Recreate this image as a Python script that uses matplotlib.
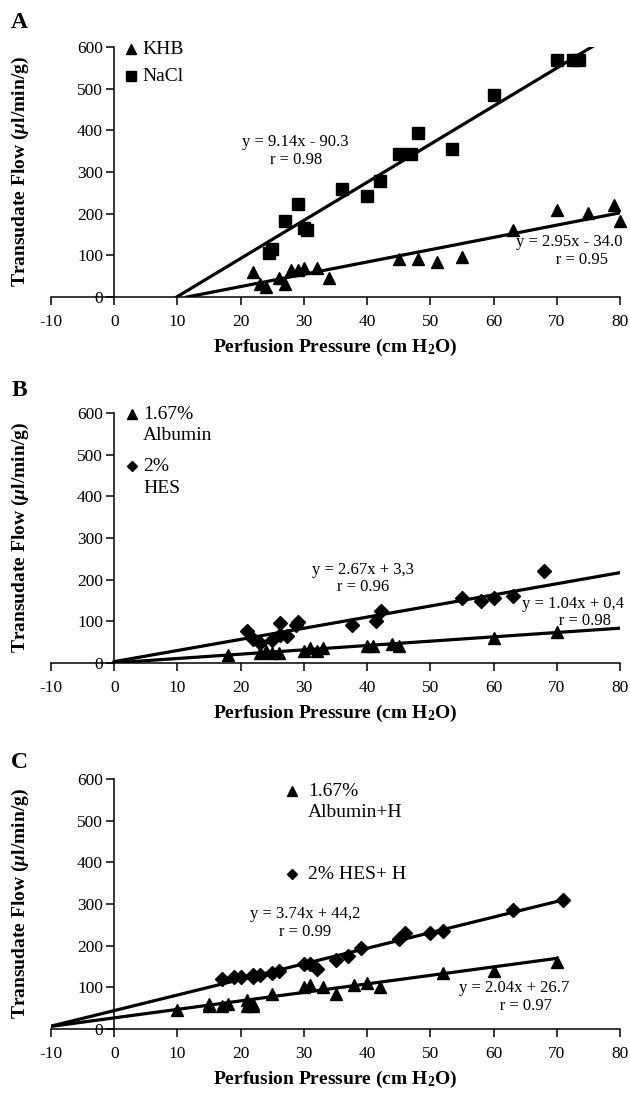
import matplotlib
matplotlib.use("Agg")
import matplotlib.pyplot as plt
from matplotlib.lines import Line2D
import numpy as np

plt.rcParams['font.family'] = ['Liberation Serif', 'DejaVu Serif']
plt.rcParams['axes.unicode_minus'] = False
plt.rcParams['mathtext.fontset'] = 'custom'
plt.rcParams['mathtext.rm'] = 'Liberation Serif'
plt.rcParams['mathtext.it'] = 'Liberation Serif:italic'
plt.rcParams['mathtext.bf'] = 'Liberation Serif:bold'
plt.rcParams['mathtext.bfit'] = 'Liberation Serif:bold:italic'

# ---- Panel A ----
khb_x = [22, 23, 24, 26, 27, 28, 29, 30, 32, 34, 45, 48, 51, 55, 63, 70, 75, 79, 80]
khb_y = [60, 30, 25, 45, 30, 65, 65, 70, 70, 45, 90, 90, 85, 95, 160, 209, 202, 221, 183]
nacl_x = [24.5, 25, 27, 29, 30, 30.5, 36, 40, 42, 45, 47, 48, 53.5, 60, 70, 72.5, 73.5]
nacl_y = [105, 115, 182, 223, 165, 160, 259, 242, 278, 343, 343, 393, 355, 485, 569, 569, 569]
fit_a = [(2.95, -34.0), (9.14, -90.3)]

# ---- Panel B ----
alb_x = [18, 23, 24, 25, 26, 30, 31, 32, 33, 40, 41, 44, 45, 60, 70]
alb_y = [20, 25, 30, 25, 25, 30, 35, 30, 35, 40, 40, 45, 40, 60, 75]
hes_x = [21, 22, 23, 25, 26.3, 26.3, 27.3, 28.8, 29, 37.6, 41.4, 42.2, 55, 58, 60, 63, 68]
hes_y = [77, 58, 48, 55, 96, 67, 65, 92, 98, 91, 101, 125, 155, 150, 155, 160, 220]
fit_b = [(1.04, 0.4), (2.67, 3.3)]

# ---- Panel C ----
albh_x = [10, 15, 15, 17, 18, 21, 21, 22, 22, 25, 30, 31, 33, 35, 38, 40, 42, 52, 60, 70]
albh_y = [45, 55, 60, 55, 60, 70, 55, 60, 55, 85, 100, 105, 100, 85, 105, 110, 100, 135, 140, 160]
hesh_x = [17, 19, 20, 22, 22, 23, 25, 26, 30, 31, 32, 35, 37, 39, 45, 46, 50, 52, 63, 71]
hesh_y = [120, 125, 125, 125, 130, 130, 135, 140, 155, 155, 145, 165, 175, 195, 215, 230, 230, 235, 285, 310]
fit_c = [(2.04, 26.7), (3.74, 44.2)]

xticks = list(range(-10, 81, 10))
yticks = list(range(0, 601, 100))

W, H = 630, 1093
fig = plt.figure(figsize=(W / 100, H / 100), dpi=100)
LEFT, RIGHT = 51, 620


def make_ax(top, bottom, letter, letter_y):
    ax = fig.add_axes([LEFT / W, 1 - bottom / H, (RIGHT - LEFT) / W, (bottom - top) / H])
    ax.set_xlim(-10, 80)
    ax.set_ylim(0, 600)
    ax.spines['top'].set_visible(False)
    ax.spines['right'].set_visible(False)
    ax.spines['left'].set_position(('data', 0))
    for s in ('left', 'bottom'):
        ax.spines[s].set_linewidth(1.1)
    ax.set_xticks(xticks)
    ax.set_yticks(yticks)
    ax.tick_params(direction='out', length=6, width=1.1, labelsize=12.5, pad=2)
    ax.tick_params(axis='x', pad=6)
    ax.set_facecolor('none')
    fig.text(20 / W, 1 - (top + bottom) / 2 / H, r'Transudate Flow ($\mathbfit{\mu}$l/min/g)',
             rotation=90, ha='center', va='center', fontsize=14, fontweight='bold')
    fig.text((LEFT + RIGHT) / 2 / W, 1 - (bottom + 50) / H,
             r'Perfusion Pressure (cm H$_\mathbf{2}$O)',
             ha='center', va='center', fontsize=14, fontweight='bold')
    fig.text(19 / W, 1 - letter_y / H, letter, fontsize=17, fontweight='bold',
             ha='center', va='center')
    return ax


def fit_line(ax, m, b, x0, x1):
    xs = np.array([x0, x1])
    ax.plot(xs, m * xs + b, color='black', lw=2.3, zorder=2)


def legend_mark(px, py, marker, ms):
    fig.add_artist(Line2D([px / W], [1 - py / H], marker=marker, color='black', ms=ms,
                          transform=fig.transFigure))


def legend_text(px, py, text):
    fig.text(px / W, 1 - py / H, text, fontsize=14)


def note(ax, x, y, text):
    ax.text(x, y, text, ha='center', va='center', fontsize=12, linespacing=1.15)


ms = 8
# Panel A
axA = make_ax(47, 297, 'A', 22)
for m, b in fit_a:
    fit_line(axA, m, b, -b / m, 80)
axA.plot(khb_x, khb_y, '^', color='black', ms=ms, zorder=3, clip_on=False)
axA.plot(nacl_x, nacl_y, 's', color='black', ms=ms, zorder=3, clip_on=False)
legend_mark(131, 49, '^', 7)
legend_mark(131, 76, 's', 7)
legend_text(142, 54, 'KHB')
legend_text(142, 81, 'NaCl')
note(axA, 28.7, 350, 'y = 9.14x - 90.3\nr = 0.98')
note(axA, 72, 110, 'y = 2.95x - 34.0\n      r = 0.95')

# Panel B
axB = make_ax(413, 663, 'B', 390)
for m, b in fit_b:
    fit_line(axB, m, b, 0, 80)
axB.plot(alb_x, alb_y, '^', color='black', ms=ms, zorder=3)
axB.plot(hes_x, hes_y, 'D', color='black', ms=ms - 1, zorder=3)
legend_mark(132, 414, '^', 7)
legend_mark(132, 466, 'D', 5.5)
legend_text(143, 419, '1.67%')
legend_text(143, 440, 'Albumin')
legend_text(143, 471, '2%')
legend_text(143, 493, 'HES')
note(axB, 39.4, 203, 'y = 2.67x + 3,3\nr = 0.96')
note(axB, 72.5, 121, 'y = 1.04x + 0,4\n      r = 0.98')

# Panel C
axC = make_ax(779, 1029, 'C', 762)
fit_line(axC, fit_c[0][0], fit_c[0][1], -10, 70)
fit_line(axC, fit_c[1][0], fit_c[1][1], -10, 71)
axC.plot(albh_x, albh_y, '^', color='black', ms=ms, zorder=3)
axC.plot(hesh_x, hesh_y, 'D', color='black', ms=ms - 1, zorder=3)
legend_mark(292, 791, '^', 7)
legend_mark(292, 874, 'D', 5.5)
legend_text(308, 796, '1.67%')
legend_text(308, 817, 'Albumin+H')
legend_text(308, 879, '2% HES+ H')
note(axC, 30.2, 255, 'y = 3.74x + 44,2\nr = 0.99')
note(axC, 63.2, 76, 'y = 2.04x + 26.7\n      r = 0.97')

fig.savefig('out.png', dpi=100, facecolor='white')
